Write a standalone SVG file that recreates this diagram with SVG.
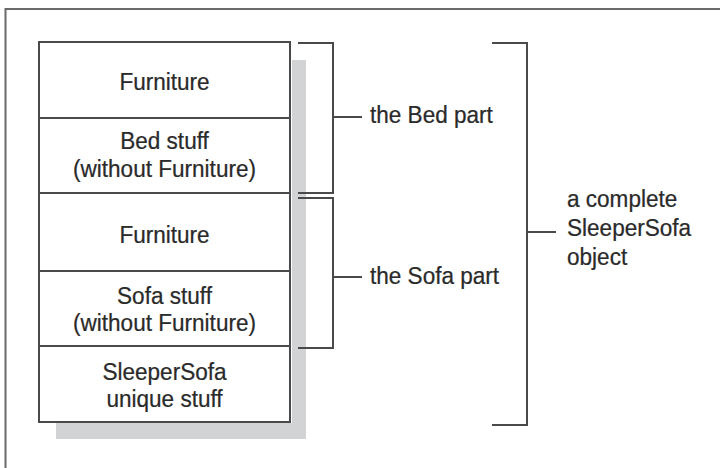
<svg xmlns="http://www.w3.org/2000/svg" width="720" height="468" viewBox="0 0 720 468">
<style>
.t{font-family:"Liberation Sans",Arial,sans-serif;font-size:24px;fill:#2a2a2a;stroke:#2a2a2a;stroke-width:0.25}
.c{text-anchor:middle}
.ln{stroke:#4a4a4a;stroke-width:2;fill:none}
.cell{fill:#fff;stroke:#4a4a4a;stroke-width:2}
</style>
<rect width="720" height="468" fill="#fff"/>
<path d="M5.5 468 V9 H720" fill="none" stroke="#6a6a6a" stroke-width="2"/>
<g id="shadow">
<rect x="292" y="60" width="14" height="379" fill="#d2d3d5"/>
<rect x="56" y="423" width="250" height="16" fill="#d2d3d5"/>
</g>
<g id="furniture1"><rect class="cell" x="39" y="42" width="251" height="76"/><text class="t c" transform="translate(164.5 90) scale(0.94 1)">Furniture</text></g>
<g id="bedstuff"><rect class="cell" x="39" y="118" width="251" height="75"/><text class="t c" transform="translate(164.5 149) scale(0.94 1)">Bed stuff</text><text class="t c" transform="translate(164.5 177) scale(0.94 1)">(without Furniture)</text></g>
<g id="furniture2"><rect class="cell" x="39" y="193" width="251" height="78"/><text class="t c" transform="translate(164.5 243) scale(0.94 1)">Furniture</text></g>
<g id="sofastuff"><rect class="cell" x="39" y="271" width="251" height="75"/><text class="t c" transform="translate(164.5 304) scale(0.94 1)">Sofa stuff</text><text class="t c" transform="translate(164.5 331) scale(0.94 1)">(without Furniture)</text></g>
<g id="unique"><rect class="cell" x="39" y="346" width="251" height="76"/><text class="t c" transform="translate(164.5 380) scale(0.94 1)">SleeperSofa</text><text class="t c" transform="translate(164.5 407) scale(0.94 1)">unique stuff</text></g>
<g id="connectors">
<path class="ln" d="M298 43 H333 V193 H298 M333 117 H362"/>
<path class="ln" d="M298 198 H333 V348 H298 M333 277 H362"/>
<path class="ln" d="M492 43 H527 V425 H492 M527 232 H556"/>
</g>
<g id="labels">
<text class="t" transform="translate(370 123) scale(0.94 1)">the Bed part</text>
<text class="t" transform="translate(370 284) scale(0.94 1)">the Sofa part</text>
<text class="t" transform="translate(567 207) scale(0.94 1)">a complete</text>
<text class="t" transform="translate(567 236) scale(0.94 1)">SleeperSofa</text>
<text class="t" transform="translate(567 265) scale(0.94 1)">object</text>
</g>
</svg>
